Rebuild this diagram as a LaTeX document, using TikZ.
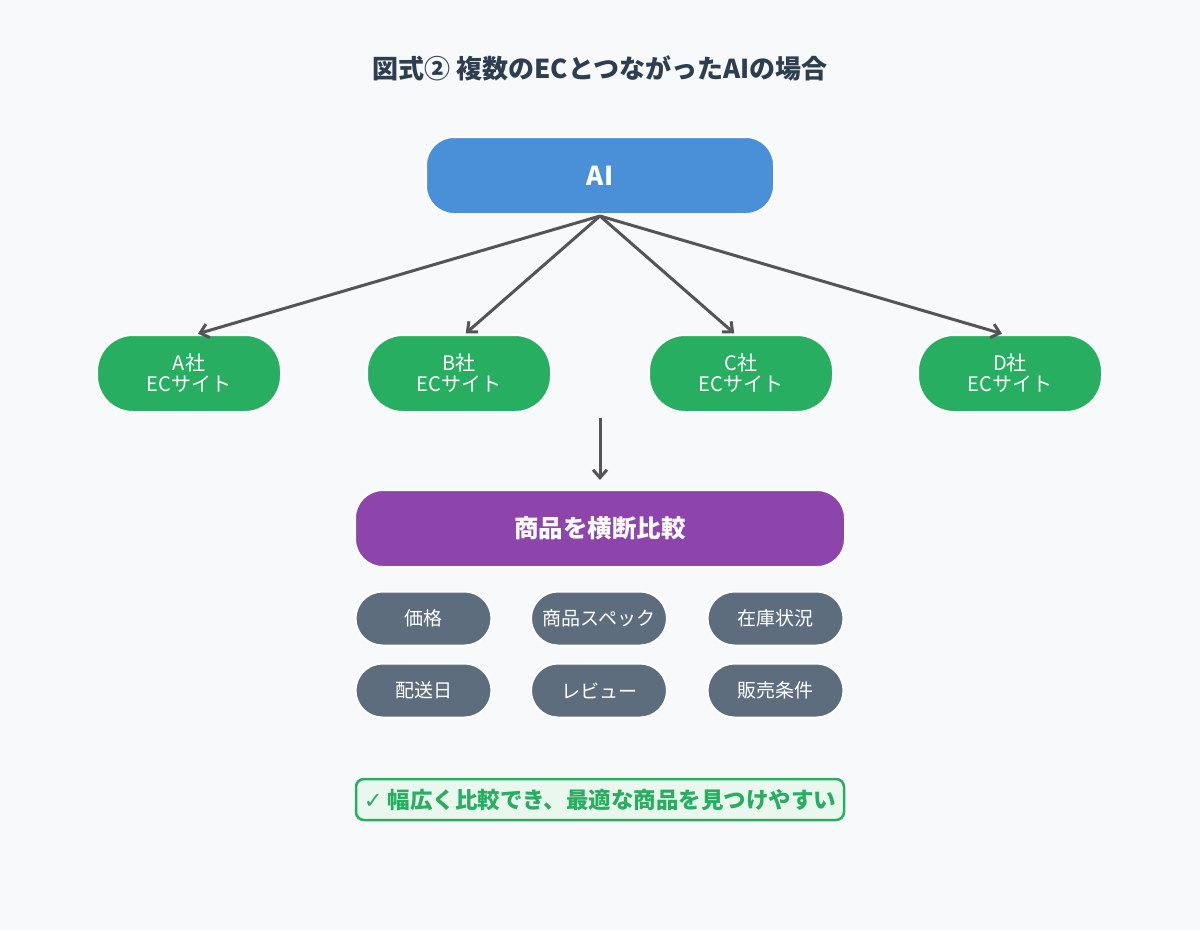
\documentclass[tikz,border=0pt]{standalone}
\usepackage{fontspec}
\setmainfont{Noto Sans CJK JP}
\newfontfamily\symfont{DejaVu Sans}
\usetikzlibrary{positioning,calc}
\usetikzlibrary{arrows.meta}

\definecolor{bgcol}{HTML}{F8F9FB}
\definecolor{titlecol}{HTML}{2C3E50}
\definecolor{aiblue}{HTML}{4A90D9}
\definecolor{ecgreen}{HTML}{27AE60}
\definecolor{cmppurple}{HTML}{8E44AD}
\definecolor{itemgray}{HTML}{5D6D7E}
\definecolor{arrowcol}{HTML}{555555}
\definecolor{notefill}{HTML}{E9F7EE}

\tikzset{
  box/.style={draw=white, line width=2pt, text=white, align=center},
  sitebox/.style={box, fill=ecgreen, rounded corners=36pt, minimum width=184pt, minimum height=77pt, font=\fontsize{20}{21}\selectfont},
  itembox/.style={box, fill=itemgray, rounded corners=27pt, minimum width=136pt, minimum height=54pt, font=\fontsize{19}{20}\selectfont},
  link/.style={draw=arrowcol, line width=3pt, -{Straight Barb[length=8pt,width=14pt,line width=3pt]}}
}

\begin{document}
\begin{tikzpicture}[x=1pt,y=-1pt]
  % Canvas
  \fill[bgcol] (0,0) rectangle (1200,930);
  \useasboundingbox (0,0) rectangle (1200,930);

  % Title
  \node[text=titlecol, font=\fontsize{26}{30}\selectfont\bfseries] (title) at (600,68) {図式② 複数のECとつながったAIの場合};

  % AI
  \node[box, fill=aiblue, rounded corners=28pt, minimum width=348pt, minimum height=77pt, font=\fontsize{26}{30}\selectfont\bfseries] (ai) at (600,175.5) {AI};

  % EC sites
  \node[sitebox] (siteA) at (189,373.5) {A社\\ECサイト};
  \node[sitebox] (siteB) at (459,373.5) {B社\\ECサイト};
  \node[sitebox] (siteC) at (741,373.5) {C社\\ECサイト};
  \node[sitebox] (siteD) at (1010,373.5) {D社\\ECサイト};

  \foreach \s/\dx in {siteA/8,siteB/6,siteC/-6,siteD/-7}
    \draw[link, shorten >=1pt] ($(ai.south)+(0,1)$) -- ($(\s.north)+(\dx,0)$);

  % Comparison
  \node[box, fill=cmppurple, rounded corners=28pt, minimum width=490pt, minimum height=77pt, font=\fontsize{24.5}{30}\selectfont\bfseries] (compare) at (600,528.5) {商品を横断比較};
  \coordinate (drop) at (600,418);
  \draw[link, shorten >=9pt] (drop) -- (compare.north);

  % Items
  \node[itembox] (price) at (423.5,618.5) {価格};
  \node[itembox] (spec) at (599,618.5) {商品スペック};
  \node[itembox] (stock) at (775.5,618.5) {在庫状況};
  \node[itembox] (ship) at (423.5,690.5) {配送日};
  \node[itembox] (review) at (599,690.5) {レビュー};
  \node[itembox] (terms) at (775.5,690.5) {販売条件};

  % Note
  \node[draw=ecgreen, fill=notefill, line width=2.5pt, rounded corners=8pt, minimum width=488pt, minimum height=41pt, text=ecgreen, font=\fontsize{22.5}{24}\selectfont\bfseries] (note) at (600,799.5) {{\symfont\bfseries ✓} 幅広く比較でき、最適な商品を見つけやすい};
\end{tikzpicture}
\end{document}
